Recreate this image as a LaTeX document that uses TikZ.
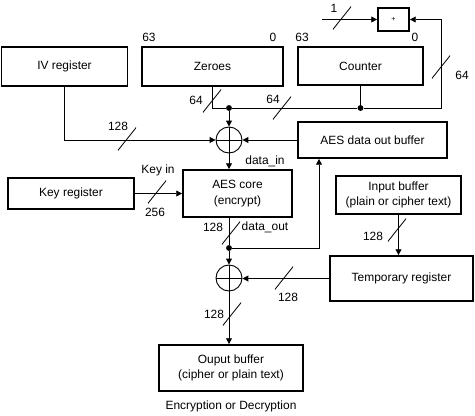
\documentclass[tikz,border=0pt]{standalone}
\usepackage{fontspec}
\setmainfont{Liberation Sans}
\usetikzlibrary{arrows.meta, positioning}

\begin{document}
\begin{tikzpicture}[
    x=0.03cm, y=-0.03cm,
    font=\fontsize{10.2}{13}\selectfont,
    reg/.style={rectangle, draw, line width=1.5pt, align=center,
                inner sep=0pt},
    xorgate/.style={circle, draw, line width=0.8pt, minimum size=0.78cm,
                    inner sep=0pt,
                    path picture={\draw[line width=0.8pt]
                      (path picture bounding box.north) -- (path picture bounding box.south)
                      (path picture bounding box.west) -- (path picture bounding box.east);}},
    slash/.style={inner sep=0pt, minimum width=0.55cm, minimum height=0.69cm,
                  path picture={\draw[line width=0.7pt]
                    (path picture bounding box.south west) -- (path picture bounding box.north east);}},
    dot/.style={circle, fill, inner sep=0pt, minimum size=5pt},
    lbl/.style={inner sep=1pt},
    wire/.style={line width=0.8pt},
    arr/.style={-{Triangle[length=5pt,width=5pt]}, line width=0.8pt}
]
\useasboundingbox (0,0) rectangle (475,415);

%% ── Registers along the top ──
\node[reg, minimum width=3.78cm, minimum height=1.17cm] (ivreg)   at (64.5,66.5)  {IV register};
\node[reg, minimum width=4.23cm, minimum height=1.17cm] (zeroes)  at (212.5,66.5) {Zeroes};
\node[reg, minimum width=3.75cm, minimum height=1.14cm] (counter) at (360.5,66)   {Counter};
\node[reg, minimum width=0.93cm, minimum height=0.69cm, font=\fontsize{6}{7}\selectfont] (plus) at (393.5,19.5) {+};

\node[lbl] (z63) at (149,37) {63};
\node[lbl] (z0)  at (273,37) {0};
\node[lbl] (c63) at (302,37) {63};
\node[lbl] (c0)  at (415,37) {0};

%% ── AES path ──
\node[xorgate] (xor1) at (229,140) {};
\node[reg, minimum width=4.47cm, minimum height=1.08cm] (aesout)  at (372.5,140)  {AES data out buffer};
\node[reg, minimum width=3.27cm, minimum height=1.41cm] (aescore) at (237.5,193.5) {AES core\\(encrypt)};
\node[reg, minimum width=3.78cm, minimum height=0.93cm] (keyreg)  at (71,193.5)    {Key register};

%% ── Data path ──
\node[reg, minimum width=3.75cm, minimum height=1.14cm] (inbuf)   at (398.5,195)  {Input buffer\\(plain or cipher text)};
\node[reg, minimum width=4.29cm, minimum height=1.35cm] (tempreg) at (401.5,278.5) {Temporary register};
\node[xorgate] (xor2) at (229,278) {};
\node[reg, minimum width=4.32cm, minimum height=1.38cm] (outbuf)  at (231,368)    {Ouput buffer\\(cipher or plain text)};
\node[lbl] (caption) at (231,406) {Encryption or Decryption};

%% ── Junctions ──
\coordinate (cin) at (322,19.5);
\node[dot] (jz) at (229,108) {};
\node[dot] (jc) at (360.5,108) {};
\node[dot] (jo) at (229,248) {};
\coordinate (jb) at (319,248);

%% ── Counter block wiring ──
\draw[arr]  (cin) -- (plus.west);
\draw[wire] (zeroes.south) |- (jz);
\draw[wire] (counter.south) -- (jc) -- (jz);
\draw[arr]  (jc) -- ++(80.5,0) |- (plus.east);
\draw[arr]  (jz) -- (xor1.north);
\draw[arr]  (ivreg.south) |- (xor1.west);
\draw[arr]  (aesout.west) -- (xor1.east);

%% ── Core wiring ──
\draw[arr]  (xor1.south) -- (xor1.south |- aescore.north);
\draw[arr]  (keyreg.east) -- (keyreg.east -| aescore.west);
\draw[wire] (jo |- aescore.south) -- (jo);
\draw[arr]  (jo) -- (jb) -- (jb |- aesout.south);
\draw[arr]  (jo) -- (xor2.north);
\draw[arr]  (inbuf.south) -- (inbuf.south |- tempreg.north);
\draw[arr]  (tempreg.west) -- (tempreg.west -| xor2.east);
\draw[arr]  (xor2.south) -- (xor2.south |- outbuf.north);

%% ── Bus widths ──
\node[slash] (s1)  at (342,18)  {};  \node[lbl] (w1)  at (334,8)   {1};
\node[slash] (s2)  at (441,67)  {};  \node[lbl] (w2)  at (462,75)  {64};
\node[slash] (s3)  at (212,101) {};  \node[lbl] (w3)  at (196,100) {64};
\node[slash] (s4)  at (282,108) {};  \node[lbl] (w4)  at (273,99)  {64};
\node[slash] (s5)  at (127,139) {};  \node[lbl] (w5)  at (118,126) {128};
\node[slash] (s6)  at (157,192) {};  \node[lbl] (w6)  at (155,212) {256};
\node[lbl] (keyin) at (158,170) {Key in};
\node[slash] (s7)  at (231,233) {};  \node[lbl] (w7)  at (213,227) {128};
\node[lbl] (dout) at (265,227) {data\_out};
\node[lbl] (din)  at (265,161) {data\_in};
\node[slash] (s8)  at (397,230) {};  \node[lbl] (w8)  at (373,236) {128};
\node[slash] (s9)  at (284,278) {};  \node[lbl] (w9)  at (288,297) {128};
\node[slash] (s10) at (232,314) {};  \node[lbl] (w10) at (214,314) {128};

\end{tikzpicture}
\end{document}
